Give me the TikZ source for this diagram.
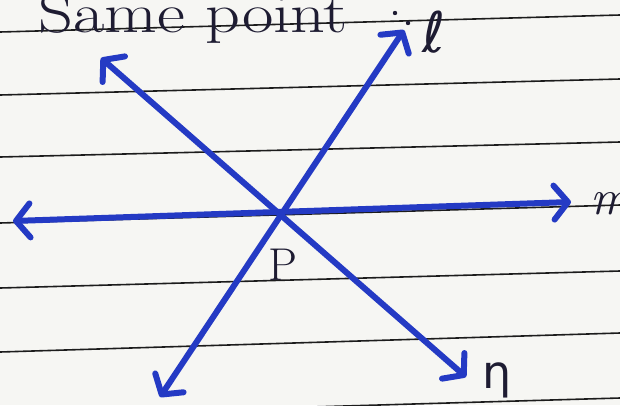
\documentclass[tikz,border=0pt]{standalone}
\usepackage{fontspec}
\newfontfamily\dvsans{DejaVu Sans}
\usetikzlibrary{arrows.meta}
\definecolor{ink}{RGB}{36,58,196}
\definecolor{pen}{RGB}{30,28,50}
\definecolor{paper}{RGB}{246,246,243}
\definecolor{ruled}{RGB}{28,28,28}
\begin{document}
\begin{tikzpicture}[x=1pt,y=-1pt,
  ruleline/.style={ruled,line width=1.6pt},
  barb/.tip={Straight Barb[length=14pt,width=34pt,line width=6pt,round]},
  ray/.style={ink,line width=6pt,line cap=round,barb-barb},
  lbl/.style={pen,inner sep=0pt,font=\fontsize{48}{48}\selectfont},
  title/.style={pen,inner sep=0pt,anchor=base west,font=\fontsize{56}{56}\selectfont}]
\useasboundingbox (0,0) rectangle (620,405);
\clip (0,0) rectangle (620,405);
\fill[paper] (0,0) rectangle (620,405);
% ruled lines of the notebook
\draw[ruleline] (0,32) -- (620,15);
\draw[ruleline] (0,95) -- (620,79);
\draw[ruleline] (0,157) -- (620,142);
\draw[ruleline] (0,223) -- (620,205);
\draw[ruleline] (0,288) -- (620,271);
\draw[ruleline] (0,352) -- (620,333);
\draw[ruleline] (0,416) -- (620,398);
% heading
\node[title] (head) at (38,32) {\scalebox{1.22}[1]{Same point}};
\fill[pen] (395,13) circle (2.2pt) (408,23) circle (2.2pt);
% points
\coordinate (P) at (281,212);
\coordinate (lA) at (404,30);
\coordinate (lB) at (160,397);
\coordinate (nA) at (101,58);
\coordinate (nB) at (466,377);
\coordinate (mA) at (13,221);
\coordinate (mB) at (571,202);
% lines through P
\draw[ray] (lB) -- (lA);
\draw[ray] (nA) -- (nB);
\draw[ray] (mA) -- (mB);
% labels
\node[lbl,anchor=base west,font=\fontsize{56}{56}\selectfont\dvsans] (ll) at (422,52) {ℓ};
\node[lbl,anchor=base west,font=\fontsize{50}{50}\selectfont\itshape] (lm) at (590,214) {m};
\node[lbl,anchor=base west,font=\fontsize{46}{46}\selectfont\dvsans] (ln) at (482,388) {η};
\node[lbl,anchor=base,font=\fontsize{46}{46}\selectfont] (lP) at (283,280) {P};
\end{tikzpicture}
\end{document}
